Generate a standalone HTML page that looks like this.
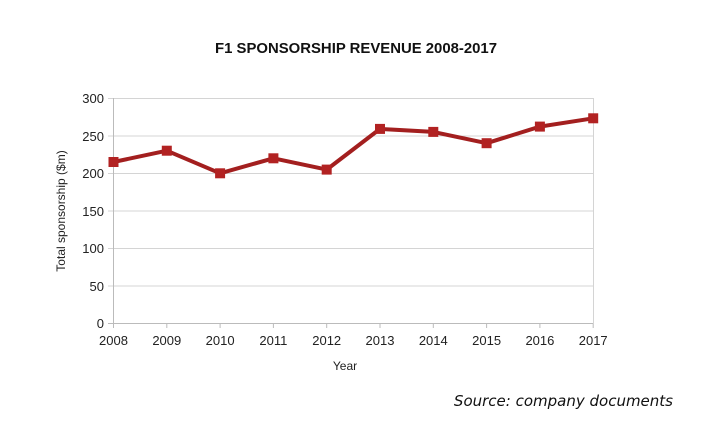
<!DOCTYPE html>
<html><head><style>body{margin:0;background:#fff}svg{display:block}</style></head><body>
<svg width="711" height="438" xmlns="http://www.w3.org/2000/svg" font-family="Liberation Sans, sans-serif">
<rect width="711" height="438" fill="#fff"/>
<text x="356" y="53" text-anchor="middle" font-size="14.5" font-weight="bold" textLength="282" lengthAdjust="spacingAndGlyphs" fill="#111">F1 SPONSORSHIP REVENUE 2008-2017</text>
<g stroke="#d4d4d4" stroke-width="1">
<line x1="108" y1="98.5" x2="593" y2="98.5"/>
<line x1="108" y1="136" x2="593" y2="136"/>
<line x1="108" y1="173.5" x2="593" y2="173.5"/>
<line x1="108" y1="211" x2="593" y2="211"/>
<line x1="108" y1="248.5" x2="593" y2="248.5"/>
<line x1="108" y1="286" x2="593" y2="286"/>
<line x1="593.5" y1="98" x2="593.5" y2="324"/>
</g>
<g stroke="#bbb" stroke-width="1">
<line x1="113.5" y1="98" x2="113.5" y2="328"/>
<line x1="108" y1="323.5" x2="593" y2="323.5"/>
<line x1="166.8" y1="324" x2="166.8" y2="328"/><line x1="220.1" y1="324" x2="220.1" y2="328"/><line x1="273.4" y1="324" x2="273.4" y2="328"/><line x1="326.7" y1="324" x2="326.7" y2="328"/><line x1="380" y1="324" x2="380" y2="328"/><line x1="433.3" y1="324" x2="433.3" y2="328"/><line x1="486.6" y1="324" x2="486.6" y2="328"/><line x1="539.9" y1="324" x2="539.9" y2="328"/><line x1="593.2" y1="324" x2="593.2" y2="328"/>
</g>
<g font-size="13" fill="#222" text-anchor="end">
<text x="104" y="103">300</text><text x="104" y="141">250</text><text x="104" y="178">200</text><text x="104" y="216">150</text><text x="104" y="253">100</text><text x="104" y="291">50</text><text x="104" y="328">0</text>
</g>
<g font-size="13" fill="#222" text-anchor="middle">
<text x="113.5" y="345">2008</text><text x="166.8" y="345">2009</text><text x="220.1" y="345">2010</text><text x="273.4" y="345">2011</text><text x="326.7" y="345">2012</text><text x="380" y="345">2013</text><text x="433.3" y="345">2014</text><text x="486.6" y="345">2015</text><text x="539.9" y="345">2016</text><text x="593.2" y="345">2017</text>
</g>
<text x="345" y="370" text-anchor="middle" font-size="12" fill="#222">Year</text>
<text transform="translate(65,211) rotate(-90)" text-anchor="middle" font-size="12" fill="#222">Total sponsorship ($m)</text>
<polyline fill="none" stroke="#a31f1f" stroke-width="4" stroke-linejoin="round" points="113.5,162 166.8,150.7 220.1,173.3 273.4,158.3 326.7,169.6 380,128.9 433.3,131.9 486.6,143.2 539.9,126.6 593.2,118.3"/>
<g fill="#b22222">
<rect x="108.5" y="157" width="10" height="10"/><rect x="161.8" y="145.7" width="10" height="10"/><rect x="215.1" y="168.3" width="10" height="10"/><rect x="268.4" y="153.3" width="10" height="10"/><rect x="321.7" y="164.6" width="10" height="10"/><rect x="375" y="123.9" width="10" height="10"/><rect x="428.3" y="126.9" width="10" height="10"/><rect x="481.6" y="138.2" width="10" height="10"/><rect x="534.9" y="121.6" width="10" height="10"/><rect x="588.2" y="113.3" width="10" height="10"/>
</g>
<text x="673" y="406" text-anchor="end" font-size="15" font-style="italic" font-family="DejaVu Sans, sans-serif" fill="#111">Source: company documents</text>
</svg>
</body></html>
